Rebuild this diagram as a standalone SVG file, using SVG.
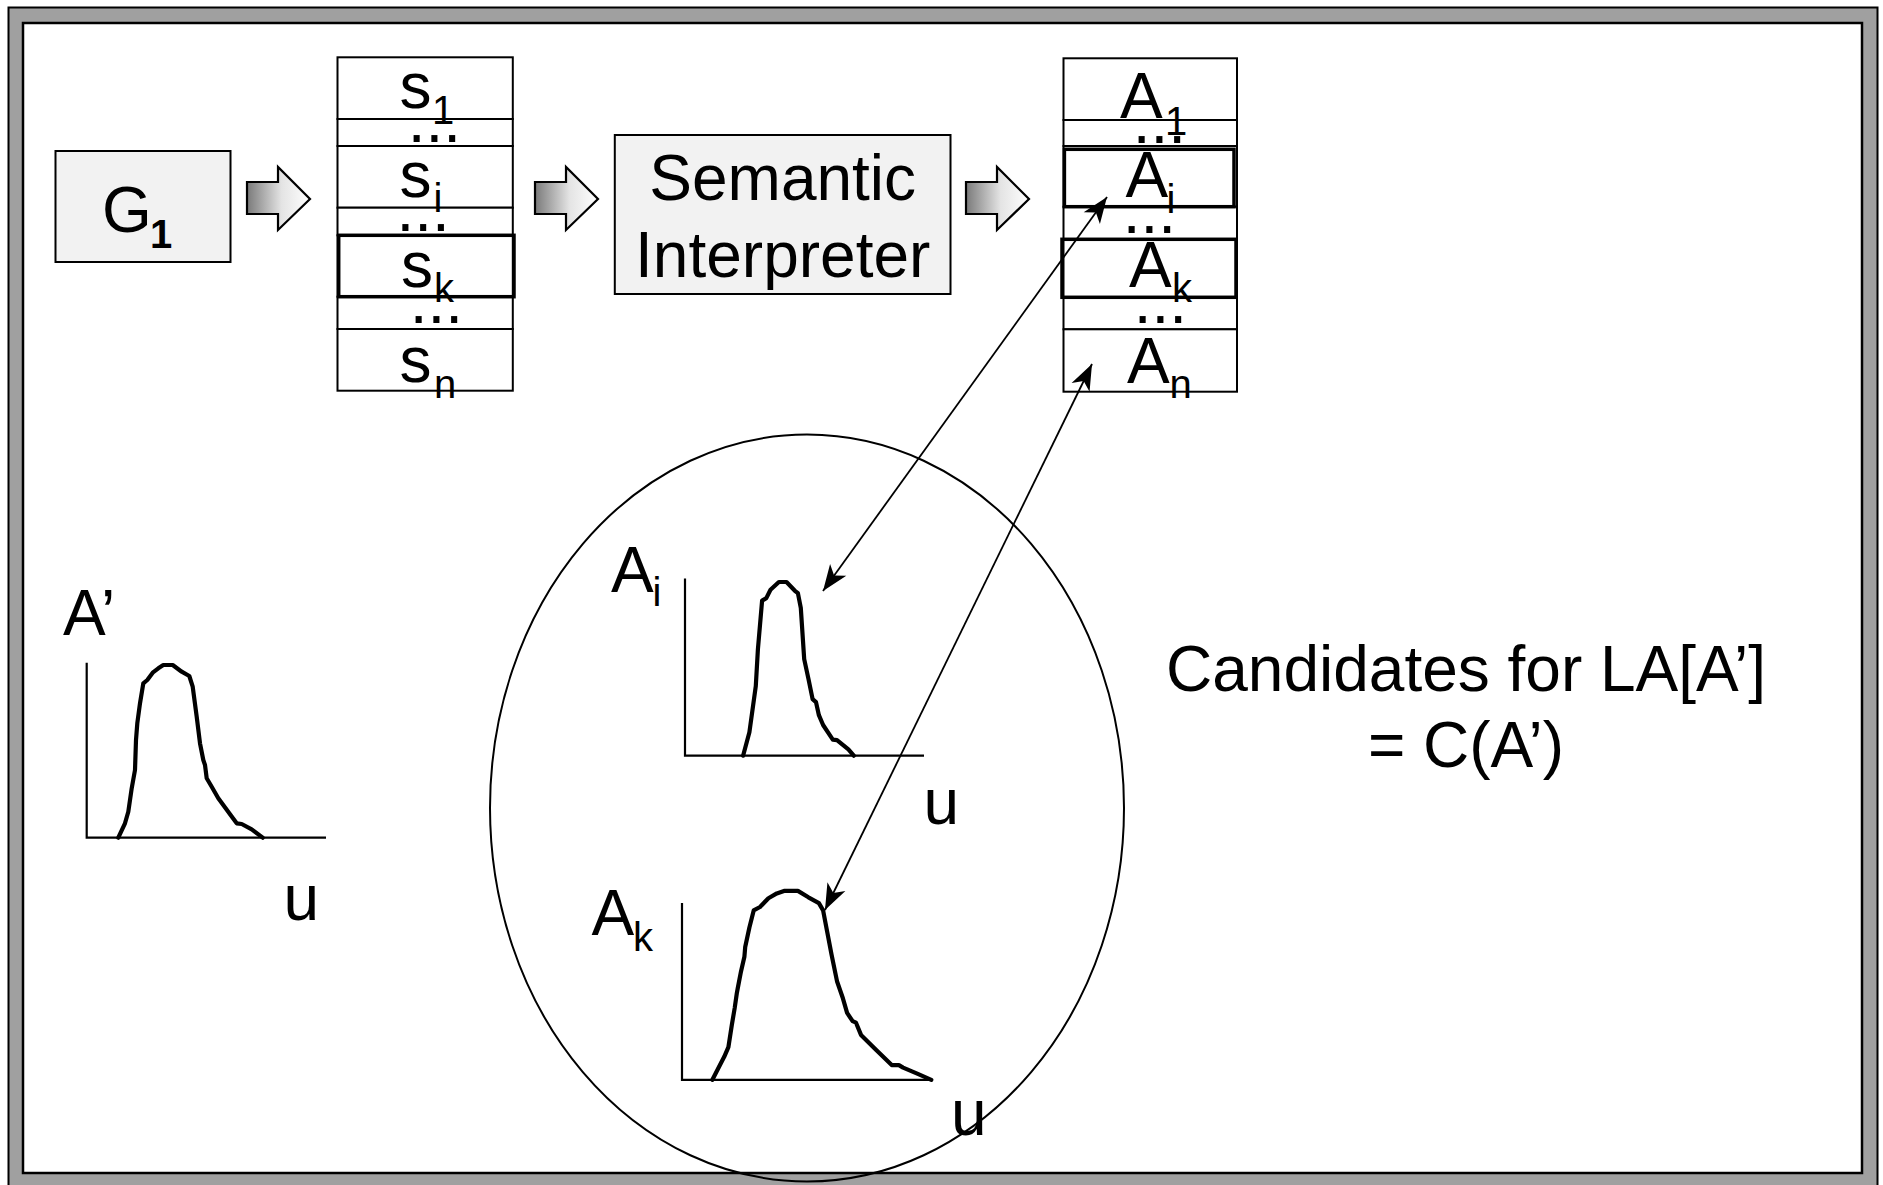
<svg xmlns="http://www.w3.org/2000/svg" width="1883" height="1185" viewBox="0 0 1883 1185">
  <defs>
    <linearGradient id="blockGrad" x1="0" y1="0" x2="1" y2="0">
      <stop offset="0" stop-color="#7a7a7a"/>
      <stop offset="0.55" stop-color="#e4e4e4"/>
      <stop offset="1" stop-color="#ffffff"/>
    </linearGradient>
    <marker id="head" markerUnits="userSpaceOnUse" viewBox="-28 -12 30 24" refX="0" refY="0" markerWidth="30" markerHeight="24" orient="auto-start-reverse">
      <path d="M0,0 L-26,-10 L-19,0 L-26,10 Z" fill="#000"/>
    </marker>
    <path id="blockArrow" d="M0,15 H31 V0 L63,32 L31,63 V47 H0 Z"/>
  </defs>
  <style>
    .t{font-family:"Liberation Sans",Arial,Helvetica,sans-serif;font-size:64px;fill:#000}
    .sub{font-size:40px}
    .row{fill:#fff;stroke:#000;stroke-width:2}
    .sel{fill:none;stroke:#000;stroke-width:3.5}
    .box{fill:#f2f2f2;stroke:#000;stroke-width:2}
    .arr{fill:url(#blockGrad);stroke:#000;stroke-width:2.2;stroke-linejoin:miter}
    .axis{fill:none;stroke:#000;stroke-width:2.2}
    .curve{fill:none;stroke:#000;stroke-width:4.2;stroke-linejoin:round;stroke-linecap:round}
    .link{fill:none;stroke:#000;stroke-width:1.8}
  </style>

  <!-- frame -->
  <rect x="8.5" y="7.5" width="1869" height="1195" fill="#a0a0a0" stroke="#000" stroke-width="2"/>
  <rect x="23" y="23" width="1839" height="1150" fill="#fff" stroke="#000" stroke-width="2.5"/>

  <!-- G1 -->
  <g id="g1">
    <rect class="box" x="55.5" y="151" width="175" height="111"/>
    <text class="t" x="102" y="231.7">G</text>
    <text class="t sub" x="150" y="248" font-weight="bold">1</text>
  </g>

  <!-- block arrows -->
  <g id="arrow-g1-s">
    <use href="#blockArrow" class="arr" x="247" y="167"/>
  </g>
  <g id="arrow-s-interp">
    <use href="#blockArrow" class="arr" x="535" y="167"/>
  </g>
  <g id="arrow-interp-a">
    <use href="#blockArrow" class="arr" x="966" y="167"/>
  </g>

  <!-- sentence list -->
  <g id="s-stack">
    <rect class="row" x="337.5" y="57.3" width="175.3" height="61.7"/>
    <rect class="row" x="337.5" y="119" width="175.3" height="27"/>
    <rect class="row" x="337.5" y="146" width="175.3" height="61.7"/>
    <rect class="row" x="337.5" y="207.7" width="175.3" height="27.6"/>
    <rect class="row" x="337.5" y="235.3" width="175.3" height="61.4"/>
    <rect class="row" x="337.5" y="296.7" width="175.3" height="32.3"/>
    <rect class="row" x="337.5" y="329" width="175.3" height="61.7"/>
    <rect class="sel" x="338.7" y="235.3" width="175.3" height="61.4"/>
    <text class="t" x="399.5" y="108.3">s</text>
    <text class="t sub" x="432" y="124">1</text>
    <text class="t" x="407.7" y="141.7">...</text>
    <text class="t" x="399.5" y="196.7">s</text>
    <text class="t sub" x="433.5" y="211.7">i</text>
    <text class="t" x="396.5" y="231">...</text>
    <text class="t" x="401" y="286.7">s</text>
    <text class="t sub" x="434" y="301.7">k</text>
    <text class="t" x="409.7" y="323.3">...</text>
    <text class="t" x="399.5" y="381.7">s</text>
    <text class="t sub" x="434" y="398">n</text>
  </g>

  <!-- semantic interpreter -->
  <g id="interpreter">
    <rect class="box" x="614.8" y="135" width="335.7" height="159"/>
    <text class="t" x="782.7" y="200" text-anchor="middle">Semantic</text>
    <text class="t" x="782.7" y="276.7" text-anchor="middle">Interpreter</text>
  </g>

  <!-- meaning list -->
  <g id="a-stack">
    <rect class="row" x="1063.5" y="58.3" width="173.5" height="61.7"/>
    <rect class="row" x="1063.5" y="120" width="173.5" height="26"/>
    <rect class="row" x="1063.5" y="146" width="173.5" height="60.7"/>
    <rect class="row" x="1063.5" y="206.7" width="173.5" height="32.6"/>
    <rect class="row" x="1063.5" y="239.3" width="173.5" height="58"/>
    <rect class="row" x="1063.5" y="297.3" width="173.5" height="32"/>
    <rect class="row" x="1063.5" y="329.3" width="173.5" height="62.4"/>
    <rect class="sel" x="1064.4" y="149.3" width="169.6" height="57.4"/>
    <rect class="sel" x="1062" y="239.3" width="174" height="58"/>
    <text class="t" x="1120" y="118.3">A</text>
    <text class="t sub" x="1165" y="135">1</text>
    <text class="t" x="1132.7" y="143.3">...</text>
    <text class="t" x="1125.5" y="196.7">A</text>
    <text class="t sub" x="1166.5" y="213.3">i</text>
    <text class="t" x="1122.7" y="232.7">...</text>
    <text class="t" x="1129" y="286.7">A</text>
    <text class="t sub" x="1172" y="301.7">k</text>
    <text class="t" x="1133.7" y="322.7">...</text>
    <text class="t" x="1127" y="383.3">A</text>
    <text class="t sub" x="1169.5" y="398.3">n</text>
  </g>

  <!-- query term A' -->
  <g id="a-prime">
    <text class="t" x="63" y="635">A’</text>
    <polyline class="axis" points="86.7,662.7 86.7,837.7 326,837.7"/>
    <polyline class="curve" points="118.3,837.7 125,823.3 128.3,811.7 131.7,788.3 135,770 136,740 137.3,723.3 140,703.3 143.3,683.3 147.3,680 152.7,672.7 158.3,668.3 163.3,665 172.7,665 181.7,671.7 189.3,676 192.7,686.7 196.7,716.7 200,743.3 203.3,760 205,765 206.7,778.3 211.7,786.7 218.3,798.3 229.3,813.3 236.7,823.3 241.7,824 251.7,829.3 262.7,837.7"/>
    <text class="t" x="283.5" y="920">u</text>
  </g>

  <!-- candidate set -->
  <g id="candidates">
    <ellipse cx="807" cy="808" rx="317" ry="373.5" fill="none" stroke="#000" stroke-width="2"/>
    <g id="cand-ai">
      <text class="t" x="611" y="591.8">A</text>
      <text class="t sub" x="652.5" y="606.4">i</text>
      <polyline class="axis" points="685,578.6 685,755.7 924,755.7"/>
      <polyline class="curve" points="743.1,755.7 749.4,732.3 755.8,686 757.9,649.4 762.1,600.6 766.3,598.1 770.5,589.8 778.9,582 786.5,582 794.9,590.8 797.9,593.2 800.8,607.9 804.2,659.1 808.4,678.6 812.6,699.1 816,702.1 818.9,715.2 823.1,725 832.8,739.6 837,740.1 848.4,749.4 853.8,755.7"/>
      <text class="t" x="923.5" y="824">u</text>
    </g>
    <g id="cand-ak">
      <text class="t" x="591.6" y="934.8">A</text>
      <text class="t sub" x="633" y="951">k</text>
      <polyline class="axis" points="682,903 682,1079.8 932.6,1079.8"/>
      <polyline class="curve" points="712.4,1079.8 717.9,1069 724.2,1056.8 728.4,1047.1 731.8,1025.1 734.7,1008 736.8,993.4 737.7,988.5 741,971.4 744.4,956.8 745.2,947 749.4,927.5 753.7,910.4 760,907 768.4,898.2 776.8,893.4 784,890.9 797.9,890.9 808.4,897.3 818.9,903.1 823.1,910.4 827.3,932.4 831.5,954.4 837,981.2 842.9,998.3 847.1,1012.9 852.6,1021.2 856,1022.7 861,1034.9 875.7,1049.5 891.7,1065.1 898.9,1065.1 903.1,1067.6 917.8,1073.9 931.3,1079.8"/>
      <text class="t" x="951" y="1135">u</text>
    </g>
  </g>

  <!-- label -->
  <g id="label">
    <text class="t" x="1466" y="690.7" text-anchor="middle">Candidates for LA[A’]</text>
    <text class="t" x="1466" y="766.7" text-anchor="middle">= C(A’)</text>
  </g>

  <!-- connectors -->
  <g id="connectors">
    <line class="link" x1="1107" y1="197" x2="823" y2="591" marker-start="url(#head)" marker-end="url(#head)"/>
    <line class="link" x1="1092" y1="364" x2="825" y2="910" marker-start="url(#head)" marker-end="url(#head)"/>
  </g>
</svg>
